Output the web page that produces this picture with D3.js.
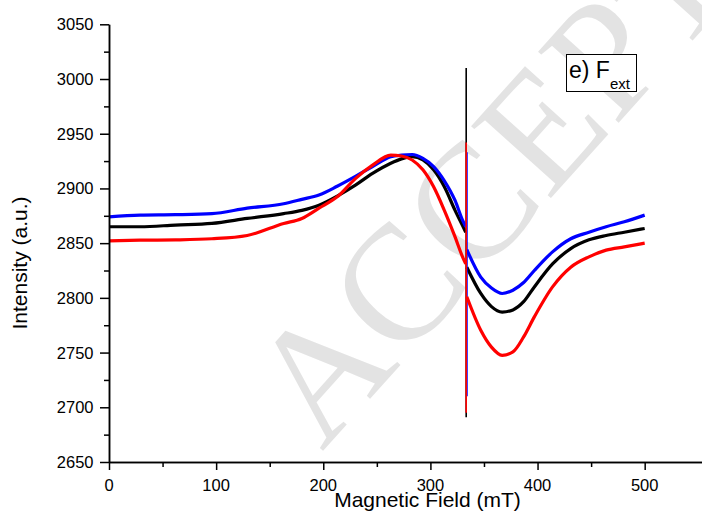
<!DOCTYPE html>
<html>
<head>
<meta charset="utf-8">
<script src="https://cdn.jsdelivr.net/npm/d3@7"></script>
<style>
  html, body { margin: 0; padding: 0; background: #fff; }
  svg { display: block; }
</style>
</head>
<body>
<svg id="chart" width="702" height="515"></svg>
<script>
// ---- data ----
const field = [0, 29, 62, 96, 129, 163, 180, 196, 213, 230, 246, 263, 273, 283, 293, 303, 313, 323, 330, 333,
               334, 347, 357, 367, 377, 387, 397, 414, 431, 448, 464, 481, 500];
const blueVals  = [2874, 2875.6, 2876, 2877, 2882, 2886, 2890, 2894, 2902, 2911, 2920, 2929, 2930.5, 2931, 2927.5, 2920, 2907, 2889, 2871, 2865,
                   2844, 2819, 2809, 2804, 2807, 2814, 2825, 2842, 2854, 2860, 2865, 2869.5, 2875.6];
const blackVals = [2865, 2865, 2866.5, 2868, 2872.6, 2877, 2880, 2884.7, 2893, 2903, 2913.7, 2923, 2927, 2929, 2926, 2917, 2901.5, 2880, 2866, 2860,
                   2828, 2804, 2792, 2787, 2789, 2796.5, 2810, 2831, 2845, 2853, 2857, 2860, 2863.4];
const redVals   = [2852, 2852.7, 2853, 2854, 2857, 2868, 2872.6, 2882, 2892.3, 2909, 2921.3, 2930.5, 2929.6, 2926, 2917, 2901.5, 2880, 2855.7, 2837.5, 2831,
                   2801, 2770.4, 2755, 2747.5, 2750.6, 2764.3, 2782.6, 2810, 2828, 2837.5, 2843.6, 2846.6, 2850];
// narrow signal at ~333 mT (black, blue, red)
const spikeField  = [333.4, 334.1, 333.4];
const spikeTop    = [3010, 2933, 2942];
const spikeBottom = [2691, 2710, 2695];

const seriesNames  = ["black", "blue", "red"];
const xMajorTicks = [0, 100, 200, 300, 400, 500];
const xMinorTicks = [50, 150, 250, 350, 450];
const yMajorTicks = [2650, 2700, 2750, 2800, 2850, 2900, 2950, 3000, 3050];
const yMinorTicks = [2675, 2725, 2775, 2825, 2875, 2925, 2975, 3025];
const xTitle = "Magnetic Field (mT)";
const yTitle = "Intensity (a.u.)";
const watermark = "ACCEPTED MANUSCRIPT";

// ---- layout ----
const svg = d3.select("#chart");
const x = d3.scaleLinear().domain([0, 553.5]).range([109, 702]);
const y = d3.scaleLinear().domain([2650, 3050]).range([462, 24.3]);
const sans = "'Liberation Sans', Arial, sans-serif";

// watermark
svg.append("text")
  .attr("transform", "translate(322,452) rotate(-48)")
  .style("font-family", "'Liberation Serif', 'Times New Roman', serif")
  .style("font-size", "164px")
  .attr("fill", "#e3e3e3")
  .text(watermark);

// ---- series ----
const colors = { black: "#000000", blue: "#0000ff", red: "#ff0000" };
const valsByName = { black: blackVals, blue: blueVals, red: redVals };
const line = d3.line().x(d => x(d[0])).y(d => y(d[1])).curve(d3.curveMonotoneX);

seriesNames.forEach((name, i) => {
  const vals = valsByName[name];
  const pre = field.map((f, j) => [f, vals[j]]).filter(d => d[0] <= 333);
  const post = field.map((f, j) => [f, vals[j]]).filter(d => d[0] >= 334);
  [pre, post].forEach(pts => {
    svg.append("path")
      .attr("d", line(pts))
      .attr("fill", "none")
      .attr("stroke", colors[name])
      .attr("stroke-width", 3.2)
      .attr("stroke-linejoin", "round");
  });
  svg.append("line")
    .attr("x1", x(spikeField[i])).attr("x2", x(spikeField[i]))
    .attr("y1", y(spikeTop[i])).attr("y2", y(spikeBottom[i]))
    .attr("stroke", colors[name])
    .attr("stroke-width", 1.6);
});

// ---- axes ----
const axisG = svg.append("g");
const yAxis = d3.axisLeft(y).tickValues(yMajorTicks).tickSize(9).tickSizeOuter(0).tickFormat("");
const yAxisMinor = d3.axisLeft(y).tickValues(yMinorTicks).tickSize(5).tickSizeOuter(0).tickFormat("");
const xAxis = d3.axisBottom(x).tickValues(xMajorTicks).tickSize(8).tickSizeOuter(0).tickFormat("");
const xAxisMinor = d3.axisBottom(x).tickValues(xMinorTicks).tickSize(5).tickSizeOuter(0).tickFormat("");

[ [yAxis, `translate(${x(0)},0)`], [yAxisMinor, `translate(${x(0)},0)`],
  [xAxis, `translate(0,${y(2650)})`], [xAxisMinor, `translate(0,${y(2650)})`] ].forEach(([ax, tr]) => {
  const g = axisG.append("g").attr("transform", tr).call(ax);
  g.selectAll("path, line").attr("stroke", "#000").attr("stroke-width", 1.5);
});

// tick labels
svg.append("g").selectAll("text").data(yMajorTicks).join("text")
  .attr("x", 93.5).attr("y", d => y(d)).attr("dy", "0.36em")
  .attr("text-anchor", "end").style("font-family", sans).style("font-size", "16.5px").attr("fill", "#000")
  .text(d => d);
svg.append("g").selectAll("text").data(xMajorTicks).join("text")
  .attr("x", d => x(d)).attr("y", 491)
  .attr("text-anchor", "middle").style("font-family", sans).style("font-size", "16.5px").attr("fill", "#000")
  .text(d => d);

// axis titles
svg.append("text").attr("x", 427.5).attr("y", 506.5)
  .attr("text-anchor", "middle").style("font-family", sans).style("font-size", "21px").attr("fill", "#000").text(xTitle);
svg.append("text").attr("transform", "translate(27,263) rotate(-90)")
  .attr("text-anchor", "middle").style("font-family", sans).style("font-size", "21px").attr("fill", "#000").text(yTitle);

// label box
svg.append("rect").attr("x", 566.5).attr("y", 54.5).attr("width", 70).attr("height", 37)
  .attr("fill", "#fff").attr("stroke", "#000").attr("stroke-width", 1);
const lab = svg.append("text").attr("x", 569).attr("y", 78).style("font-family", sans).style("font-size", "23px").attr("fill", "#000");
lab.append("tspan").text("e) F");
lab.append("tspan").style("font-size", "15px").attr("dy", 11).text("ext");
</script>
</body>
</html>
